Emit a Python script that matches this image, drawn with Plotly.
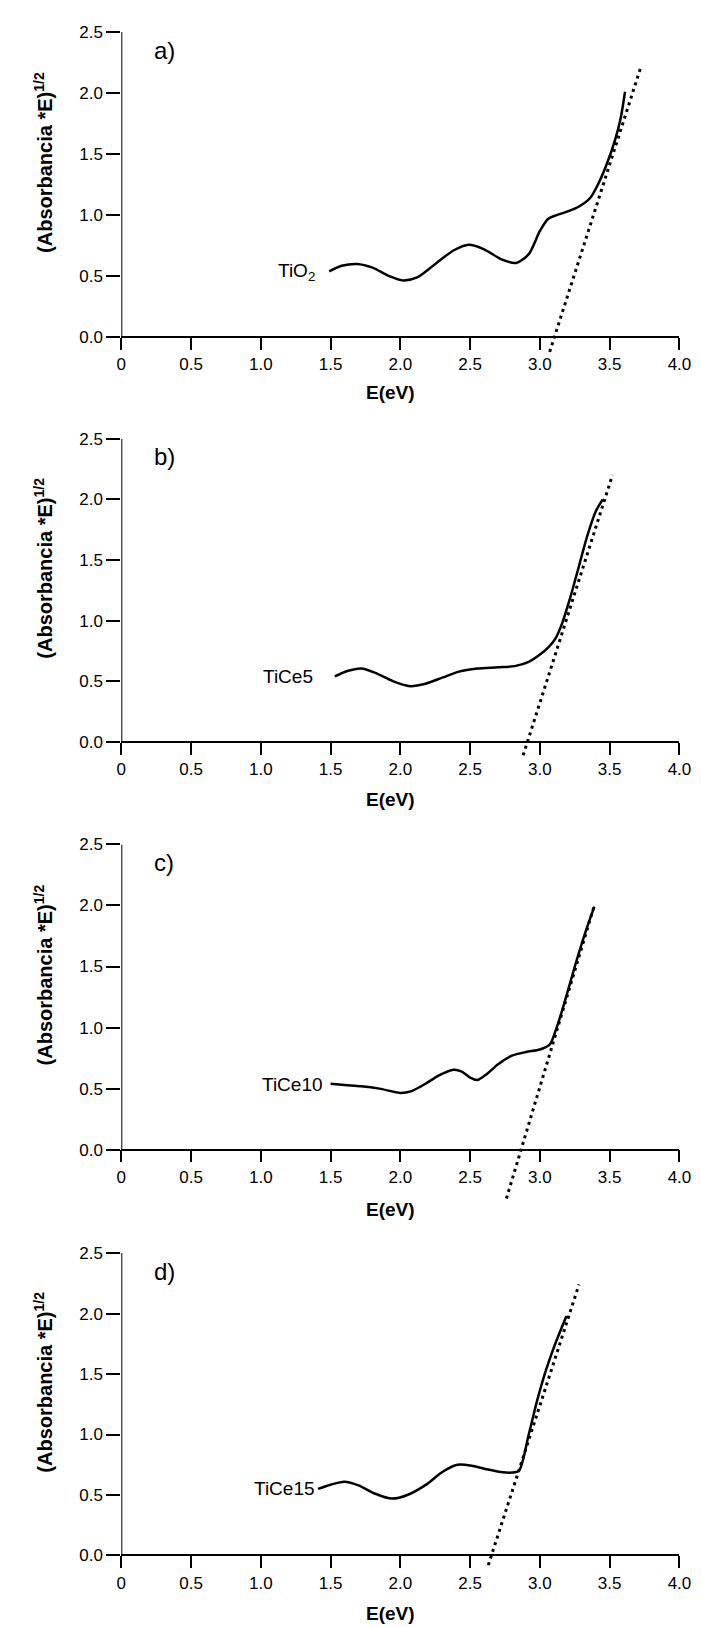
import plotly.graph_objects as go

# ---------------- data ----------------
E_TIO2 = [1.49, 1.58, 1.69, 1.80, 1.92, 2.02, 2.12, 2.25, 2.38, 2.49, 2.60, 2.72, 2.83,
          2.92, 3.00, 3.06, 3.12, 3.20, 3.28, 3.36, 3.42, 3.48, 3.54, 3.58, 3.61]
Y_TIO2 = [0.54, 0.585, 0.60, 0.57, 0.50, 0.465, 0.49, 0.60, 0.71, 0.757, 0.72, 0.64, 0.608,
          0.68, 0.87, 0.97, 1.00, 1.03, 1.07, 1.14, 1.26, 1.42, 1.62, 1.80, 2.01]
FIT_TIO2_E = [3.07, 3.72]
FIT_TIO2_Y = [-0.12, 2.20]

E_TICE5 = [1.53, 1.62, 1.72, 1.82, 1.95, 2.07, 2.18, 2.30, 2.42, 2.55, 2.70, 2.82, 2.92,
           3.00, 3.06, 3.11, 3.16, 3.22, 3.28, 3.34, 3.40, 3.45]
Y_TICE5 = [0.54, 0.585, 0.606, 0.57, 0.50, 0.46, 0.48, 0.53, 0.58, 0.605, 0.615, 0.625, 0.66,
           0.72, 0.78, 0.85, 0.98, 1.20, 1.45, 1.70, 1.90, 2.00]
FIT_TICE5_E = [2.88, 3.52]
FIT_TICE5_Y = [-0.11, 2.20]

E_TICE10 = [1.50, 1.60, 1.72, 1.85, 2.00, 2.08, 2.18, 2.28, 2.38, 2.44, 2.50, 2.55, 2.62,
            2.70, 2.80, 2.90, 3.00, 3.07, 3.12, 3.18, 3.25, 3.32, 3.39]
Y_TICE10 = [0.54, 0.53, 0.52, 0.50, 0.465, 0.48, 0.54, 0.61, 0.655, 0.64, 0.59, 0.57, 0.62,
            0.70, 0.77, 0.80, 0.82, 0.86, 1.00, 1.22, 1.50, 1.76, 1.99]
FIT_TICE10_E = [2.76, 3.39]
FIT_TICE10_Y = [-0.40, 2.00]

E_TICE15 = [1.41, 1.50, 1.60, 1.70, 1.82, 1.94, 2.05, 2.19, 2.30, 2.41, 2.52, 2.63, 2.72,
            2.80, 2.85, 2.92, 2.98, 3.04, 3.10, 3.19]
Y_TICE15 = [0.55, 0.585, 0.61, 0.58, 0.51, 0.47, 0.50, 0.59, 0.69, 0.75, 0.74, 0.71, 0.69,
            0.685, 0.70, 1.00, 1.28, 1.52, 1.72, 1.98]
FIT_TICE15_E = [2.63, 3.28]
FIT_TICE15_Y = [-0.08, 2.24]

SAMPLE_LABELS = ["TiO<sub>2</sub>", "TiCe5", "TiCe10", "TiCe15"]
PANEL_LABELS = ["a)", "b)", "c)", "d)"]
X_TICK_VALS = [0, 0.5, 1.0, 1.5, 2.0, 2.5, 3.0, 3.5, 4.0]
X_TICK_TEXT = ["0", "0.5", "1.0", "1.5", "2.0", "2.5", "3.0", "3.5", "4.0"]
Y_TICK_VALS = [0, 0.5, 1.0, 1.5, 2.0, 2.5]
Y_TICK_TEXT = ["0.0", "0.5", "1.0", "1.5", "2.0", "2.5"]
X_TITLE = "E(eV)"
Y_TITLE = "(Absorbancia *E)<sup>1/2</sup>"

CURVES = [(E_TIO2, Y_TIO2), (E_TICE5, Y_TICE5), (E_TICE10, Y_TICE10), (E_TICE15, Y_TICE15)]
FITS = [(FIT_TIO2_E, FIT_TIO2_Y), (FIT_TICE5_E, FIT_TICE5_Y),
        (FIT_TICE10_E, FIT_TICE10_Y), (FIT_TICE15_E, FIT_TICE15_Y)]
LABEL_POS = [(1.40, 0.53), (1.39, 0.54), (1.46, 0.535), (1.40, 0.55)]

# ---------------- layout geometry ----------------
W, H = 701, 1627
TOPS = [15, 424, 832, 1243]
ZEROS = [322, 729, 1139, 1547]
XTITLE_OFF = [56, 58, 60, 58]
X0, X1 = 111, 683
YMIN = -0.45
FONT = "Liberation Sans, Arial, sans-serif"

fig = go.Figure()
layout = dict(width=W, height=H, margin=dict(l=0, r=0, t=0, b=0),
              paper_bgcolor="white", plot_bgcolor="white", showlegend=False,
              font=dict(family=FONT, color="black"))
annotations = []
shapes = []

for i in range(4):
    n = "" if i == 0 else str(i + 1)
    xa, ya = "x" + n, "y" + n
    top, zero = TOPS[i], ZEROS[i]
    ppu = (zero - top) / 2.5
    bottom = zero + (-YMIN) * ppu
    layout["xaxis" + n] = dict(
        domain=[X0 / W, X1 / W], range=[0, 4], anchor="free", position=1 - zero / H,
        showline=True, linecolor="black", linewidth=1.5, ticks="outside", ticklen=12,
        tickwidth=2, tickcolor="black", tickvals=X_TICK_VALS, ticktext=X_TICK_TEXT,
        tickfont=dict(size=17, family=FONT), showgrid=False, zeroline=False,
        fixedrange=True)
    layout["yaxis" + n] = dict(
        domain=[1 - bottom / H, 1 - top / H], range=[YMIN, 2.5], anchor=xa,
        showline=False, ticks="outside", ticklen=14, tickwidth=1.5, tickcolor="black",
        tickvals=Y_TICK_VALS, ticktext=Y_TICK_TEXT, tickfont=dict(size=17, family=FONT),
        showgrid=False, zeroline=False, fixedrange=True)
    shapes.append(dict(type="line", xref=xa, yref=ya, x0=0, x1=0, y0=0, y1=2.5,
                       line=dict(color="black", width=2)))

    ex, ey = CURVES[i]
    fig.add_trace(go.Scatter(x=ex, y=ey, mode="lines", xaxis=xa, yaxis=ya,
                             line=dict(color="black", width=2.5, shape="spline",
                                       smoothing=0.8)))
    fx, fy = FITS[i]
    fig.add_trace(go.Scatter(x=fx, y=fy, mode="lines", xaxis=xa, yaxis=ya,
                             line=dict(color="black", width=3, dash="3px,4px")))

    lx, ly = LABEL_POS[i]
    annotations.append(dict(x=lx, y=ly, xref=xa, yref=ya, text=SAMPLE_LABELS[i],
                            showarrow=False, xanchor="right", yanchor="middle",
                            font=dict(size=19, family=FONT)))
    annotations.append(dict(x=0.22, y=2.35, xref=xa, yref=ya, text=PANEL_LABELS[i],
                            showarrow=False, xanchor="left", yanchor="middle",
                            font=dict(size=24, family=FONT)))
    annotations.append(dict(x=(X0 + X1) / 2 / W - 0.015, y=1 - (zero + XTITLE_OFF[i]) / H,
                            xref="paper", yref="paper", text="<b>" + X_TITLE + "</b>",
                            showarrow=False, xanchor="center", yanchor="middle",
                            font=dict(size=19, family=FONT)))
    annotations.append(dict(x=31 / W, y=1 - ((top + zero) / 2 - 22) / H,
                            xref="paper", yref="paper", text="<b>" + Y_TITLE + "</b>",
                            textangle=-90, showarrow=False, xanchor="center",
                            yanchor="middle", font=dict(size=20, family=FONT)))

layout["annotations"] = annotations
layout["shapes"] = shapes
fig.update_layout(**layout)
fig.write_html("out.html")
